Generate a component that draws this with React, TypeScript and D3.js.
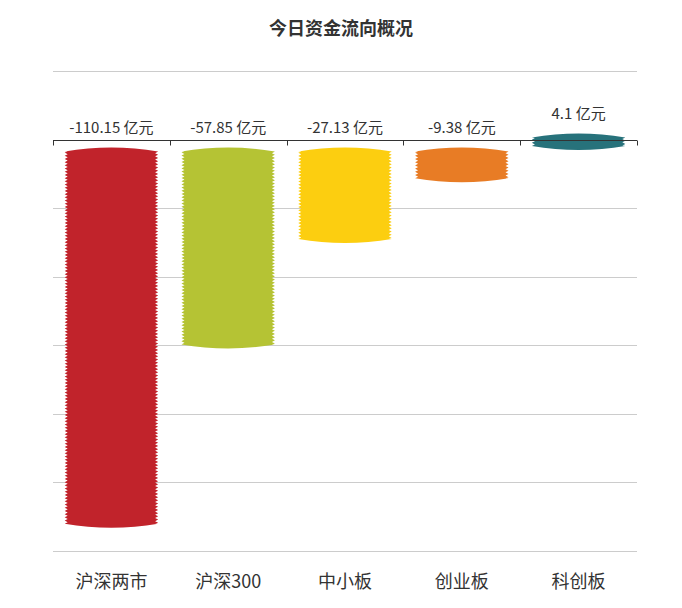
import * as d3 from "d3";
import { useEffect, useRef } from "react";

const categories = ["沪深两市", "沪深300", "中小板", "创业板", "科创板"];
const values = [-110.15, -57.85, -27.13, -9.38, 4.1];
const colors = ["#C1232B", "#B5C334", "#FCCE10", "#E87C25", "#27727B"];
const yTicks = [20, 0, -20, -40, -60, -80, -100, -120];

const width = 682;
const height = 608;
const left = 53;
const right = 637;
const top = 71;
const bottom = 551;
const shift = 9; // bars sit a little below the zero line
const bulge = 4; // height of the curved top / bottom edge
const tooth = 3; // depth of the zig-zag on the sides

// zig-zag sided bar with curved ends
const barPath = (x0: number, x1: number, yTop: number, yBot: number) => {
    const mid = (x0 + x1) / 2;
    const a = yTop + bulge;
    const b = Math.max(yBot - bulge, a);
    const p = d3.path();
    p.moveTo(x0, a);
    p.quadraticCurveTo(mid, yTop - bulge, x1, a);
    let y = a;
    let k = 0;
    while (y < b) {
        y = Math.min(y + 1.6, b);
        k++;
        p.lineTo(k % 2 ? x1 - tooth : x1, y);
    }
    p.lineTo(x1, b);
    p.quadraticCurveTo(mid, yBot + bulge, x0, b);
    y = b;
    k = 0;
    while (y > a) {
        y = Math.max(y - 1.6, a);
        k++;
        p.lineTo(k % 2 ? x0 + tooth : x0, y);
    }
    p.closePath();
    return p.toString();
};

export default function App() {
    const svgRef = useRef<SVGSVGElement>(null);

    useEffect(() => {
        if (!svgRef.current) return;
        const svg = d3.select(svgRef.current);
        svg.selectAll("*").remove();

        const x = d3.scaleBand().domain(categories).range([left, right]).paddingInner(0.2).paddingOuter(0.1);
        const xOuter = d3.scaleBand().domain(categories).range([left, right]);
        const y = d3.scaleLinear().domain([-120, 20]).range([bottom, top]);

        const font = "'Noto Sans CJK SC', 'Noto Sans', sans-serif";

        svg.append("text")
            .attr("x", width / 2)
            .attr("y", 27)
            .attr("text-anchor", "middle")
            .attr("dominant-baseline", "central")
            .attr("font-family", font)
            .attr("font-size", 18)
            .attr("font-weight", "bold")
            .attr("fill", "#333")
            .text("今日资金流向概况");

        // horizontal grid lines
        svg.append("g")
            .selectAll("line")
            .data(yTicks)
            .join("line")
            .attr("x1", left)
            .attr("x2", right)
            .attr("y1", (d) => Math.round(y(d)) + 0.5)
            .attr("y2", (d) => Math.round(y(d)) + 0.5)
            .attr("stroke", "#ccc");

        // bars
        svg.append("g")
            .selectAll("path")
            .data(values)
            .join("path")
            .attr("d", (v, i) => {
                const x0 = x(categories[i])!;
                const x1 = x0 + x.bandwidth();
                const y0 = Math.min(y(0), y(v)) + shift;
                const y1 = Math.max(y(0), y(v)) + shift + 1.5;
                return barPath(x0, x1, y0 - 1, y1);
            })
            .attr("fill", (_, i) => colors[i]);

        // zero axis line and ticks
        const y0 = Math.round(y(0)) + 0.5;
        const axis = svg.append("g").attr("stroke", "#333");
        axis.append("line").attr("x1", left).attr("x2", right).attr("y1", y0).attr("y2", y0);
        const tickXs = categories.map((c) => xOuter(c)!).concat([right]);
        axis.selectAll("line.tick")
            .data(tickXs)
            .join("line")
            .attr("class", "tick")
            .attr("x1", (d) => Math.round(d) + 0.5)
            .attr("x2", (d) => Math.round(d) + 0.5)
            .attr("y1", y0)
            .attr("y2", y0 + 5);

        // value labels
        svg.append("g")
            .selectAll("text")
            .data(values)
            .join("text")
            .attr("x", (_, i) => xOuter(categories[i])! + xOuter.bandwidth() / 2)
            .attr("y", (v) => Math.min(y(0), y(v)) - 13)
            .attr("text-anchor", "middle")
            .attr("dominant-baseline", "central")
            .attr("font-family", font)
            .attr("font-size", 15)
            .attr("fill", "#333")
            .text((v) => `${v} 亿元`);

        // category labels
        svg.append("g")
            .selectAll("text")
            .data(categories)
            .join("text")
            .attr("x", (c) => xOuter(c)! + xOuter.bandwidth() / 2)
            .attr("y", 580)
            .attr("text-anchor", "middle")
            .attr("dominant-baseline", "central")
            .attr("font-family", font)
            .attr("font-size", 18)
            .attr("fill", "#333")
            .text((c) => c);
    }, []);

    return (
        <svg
            ref={svgRef}
            width={width}
            height={height}
            style={{ position: "absolute", left: 0, top: 0, background: "#fff" }}
        />
    );
}
